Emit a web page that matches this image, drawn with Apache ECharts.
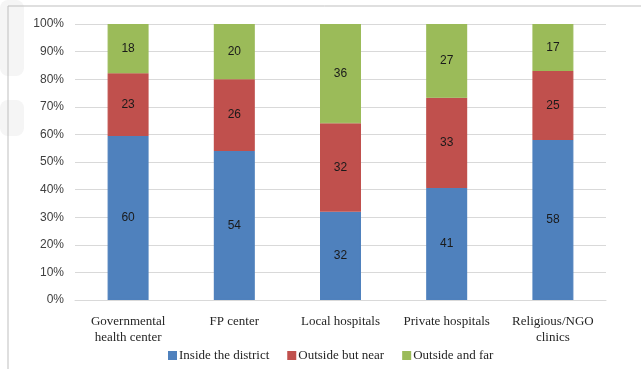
<!DOCTYPE html>
<html>
<head>
<meta charset="utf-8">
<script src="https://cdn.jsdelivr.net/npm/echarts@6/dist/echarts.min.js"></script>
<style>
  html, body { margin: 0; padding: 0; background: #fff; }
  #chart { width: 641px; height: 369px; }
</style>
</head>
<body>
<div id="chart"></div>
<script>
const categories = ['Governmental\nhealth center', 'FP center', 'Local hospitals', 'Private hospitals', 'Religious/NGO\nclinics'];
const inside = [60, 54, 32, 41, 58];
const near = [23, 26, 32, 33, 25];
const far = [18, 20, 36, 27, 17];
const yTicks = [0, 10, 20, 30, 40, 50, 60, 70, 80, 90, 100];

// bars are drawn as share of each column's total, labels show raw counts
const totals = categories.map((_, i) => inside[i] + near[i] + far[i]);
const share = arr => arr.map((v, i) => ({ value: v / totals[i] * 100, raw: v }));

const chart = echarts.init(document.getElementById('chart'));

const seriesOf = (name, arr, color) => ({
  name: name,
  type: 'bar',
  stack: 'all',
  barWidth: 41,
  data: share(arr),
  itemStyle: { color: color, borderColor: color, borderWidth: 1.2 },
  label: {
    show: true,
    position: 'inside',
    formatter: p => p.data.raw,
    color: '#1a1a1a',
    fontSize: 12,
    fontFamily: 'Liberation Sans'
  }
});

chart.setOption({
  animation: false,
  grid: { left: 75, right: 35, top: 24, bottom: 69 },
  xAxis: {
    type: 'category',
    data: categories,
    axisLine: { lineStyle: { color: '#d9d9d9', width: 1 } },
    axisTick: { show: false },
    axisLabel: {
      color: '#262626',
      fontSize: 13,
      fontFamily: 'Liberation Serif',
      lineHeight: 16,
      margin: 14,
      interval: 0
    }
  },
  yAxis: {
    type: 'value',
    min: yTicks[0],
    max: yTicks[yTicks.length - 1],
    interval: 10,
    axisLine: { show: false },
    axisTick: { show: false },
    splitLine: { lineStyle: { color: '#d9d9d9', width: 1 } },
    axisLabel: {
      formatter: '{value}%',
      color: '#404040',
      fontSize: 12,
      fontFamily: 'Liberation Sans',
      margin: 11
    }
  },
  legend: {
    top: 344,
    left: 163,
    itemWidth: 7,
    itemHeight: 7,
    itemGap: 18,
    icon: 'rect',
    textStyle: { color: '#262626', fontSize: 13, fontFamily: 'Liberation Serif', padding: [0, 0, 0, -2] },
    data: ['Inside the district', 'Outside but near', 'Outside and far']
  },
  graphic: [
    { type: 'rect', shape: { x: 0, y: 0, width: 24, height: 76, r: 8 }, style: { fill: '#f5f5f5' }, z: -2 },
    { type: 'rect', shape: { x: 0, y: 100, width: 24, height: 36, r: 8 }, style: { fill: '#f5f5f5' }, z: -2 },
    { type: 'line', shape: { x1: 8, y1: 6, x2: 641, y2: 6 }, style: { stroke: '#bfbfbf', lineWidth: 1 } },
    { type: 'line', shape: { x1: 8, y1: 6, x2: 8, y2: 369 }, style: { stroke: '#bfbfbf', lineWidth: 1 } }
  ],
  series: [
    seriesOf('Inside the district', inside, '#4f81bd'),
    seriesOf('Outside but near', near, '#c0504d'),
    seriesOf('Outside and far', far, '#9bbb59')
  ]
});
</script>
</body>
</html>
